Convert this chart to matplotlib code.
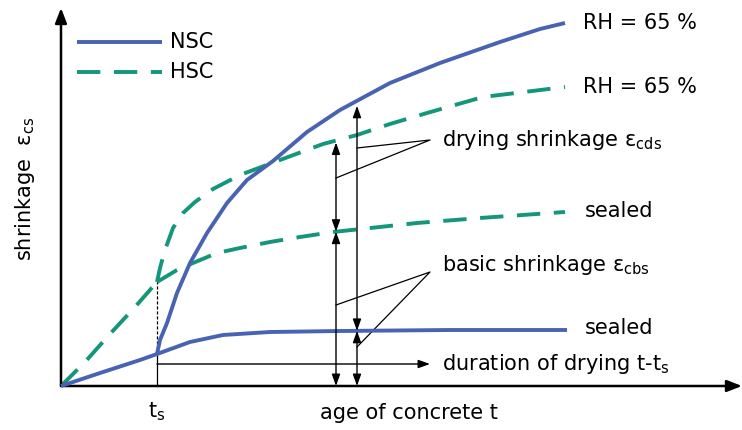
import numpy as np
import matplotlib
matplotlib.use("Agg")
from matplotlib import pyplot as plt

# curve points (x = age, y = shrinkage, arbitrary units)
t_s = 96

nsc_sealed_t = [0, 39, 79, 96, 129, 162, 209, 279, 389, 506]
nsc_sealed = [0, 13, 26, 32, 44, 51, 54, 55, 56, 56]

nsc_dry_t = [96, 99, 106, 116, 129, 146, 166, 186, 212, 246, 279, 329, 379, 439, 479, 504]
nsc_dry = [32, 46, 63, 93, 123, 153, 183, 206, 225, 254, 276, 303, 323, 344, 357, 363]

hsc_early_t = [0, 24, 49, 74, 96]
hsc_early = [0, 24, 52, 79, 104]

hsc_dry_t = [96, 99, 104, 112, 122, 134, 152, 179, 219, 262, 296, 329, 366, 422, 504]
hsc_dry = [104, 118, 136, 158, 173, 184, 197, 211, 226, 242, 251, 262, 273, 289, 299]

hsc_sealed_t = [96, 116, 132, 156, 179, 209, 239, 272, 356, 419, 504]
hsc_sealed = [104, 116, 123, 133, 138, 144, 149, 154, 163, 168, 174]

arrow_t_hsc = 275
arrow_t_nsc = 296

blue = '#4763B1'
green = '#13967A'
fs = 15

fig = plt.figure(figsize=(7.42, 4.30), dpi=100)
ax = fig.add_axes([0, 0, 1, 1])
ax.set_xlim(-61, 681)
ax.set_ylim(-44, 386)
ax.axis('off')

ap = dict(shrinkA=0, shrinkB=0, lw=1.0, color='black', mutation_scale=10)

# axes with arrows
ax.annotate('', xy=(0, 378), xytext=(0, 0),
            arrowprops=dict(arrowstyle='-|>,head_length=0.9,head_width=0.35', **dict(ap, lw=1.8)))
ax.annotate('', xy=(681, 0), xytext=(0, 0),
            arrowprops=dict(arrowstyle='-|>,head_length=0.9,head_width=0.35', **dict(ap, lw=1.8)))

# curves
ax.plot(nsc_sealed_t, nsc_sealed, color=blue, lw=2.8, solid_capstyle='butt',
        solid_joinstyle='round', zorder=3)
ax.plot(nsc_dry_t, nsc_dry, color=blue, lw=2.8, solid_capstyle='butt',
        solid_joinstyle='round', zorder=3)
ax.plot(hsc_early_t, hsc_early, color=green, lw=2.8, ls=(0, (6, 3.5)), zorder=2)
ax.plot(hsc_dry_t, hsc_dry, color=green, lw=2.8, ls=(0, (6, 3.5)), zorder=2)
ax.plot(hsc_sealed_t, hsc_sealed, color=green, lw=2.8, ls=(0, (6, 3.5)), zorder=2)

# t_s markers
ts_low = np.interp(t_s, nsc_sealed_t, nsc_sealed)
ax.plot([t_s, t_s], [0, ts_low], color='black', lw=0.9)
ax.plot([t_s, t_s], [ts_low, hsc_early[-1]], color='black', lw=0.9, ls=(0, (2.5, 1.5)))

# duration of drying
ax.annotate('', xy=(369, 22), xytext=(t_s, 22),
            arrowprops=dict(arrowstyle='-|>,head_length=0.7,head_width=0.25', **ap))

# shrinkage component arrows
dbl = '<|-|>,head_length=0.7,head_width=0.25'
h_sealed = np.interp(arrow_t_hsc, hsc_sealed_t, hsc_sealed)
h_dry = np.interp(arrow_t_hsc, hsc_dry_t, hsc_dry) - 2
n_sealed = np.interp(arrow_t_nsc, nsc_sealed_t, nsc_sealed)
n_dry = np.interp(arrow_t_nsc, nsc_dry_t, nsc_dry) - 5
for x, lo, hi in [(arrow_t_hsc, h_sealed, h_dry), (arrow_t_nsc, n_sealed, n_dry)]:
    ax.annotate('', xy=(x, 0), xytext=(x, lo), arrowprops=dict(arrowstyle=dbl, **ap))
    ax.annotate('', xy=(x, lo), xytext=(x, hi), arrowprops=dict(arrowstyle=dbl, **ap))

# leader lines
ax.plot([arrow_t_nsc, 369, arrow_t_hsc], [238, 246, 208], color='black', lw=0.9)
ax.plot([arrow_t_hsc, 369, arrow_t_nsc], [81, 114, 39], color='black', lw=0.9)

# labels
ax.text(522, 363, 'RH = 65 %', fontsize=fs, va='center')
ax.text(522, 299, 'RH = 65 %', fontsize=fs, va='center')
ax.text(524, 175, 'sealed', fontsize=fs, va='center')
ax.text(524, 58, 'sealed', fontsize=fs, va='center')
ax.text(381, 246, r'drying shrinkage ε$_{\mathrm{cds}}$', fontsize=fs, va='center')
ax.text(381, 121, r'basic shrinkage ε$_{\mathrm{cbs}}$', fontsize=fs, va='center')
ax.text(381, 22, r'duration of drying t-t$_{\mathrm{s}}$', fontsize=fs, va='center')
ax.text(t_s, -26, r't$_{\mathrm{s}}$', fontsize=fs, ha='center', va='center')
ax.text(348, -27, 'age of concrete t', fontsize=fs, ha='center', va='center')
ax.text(-36, 197, r'shrinkage  ε$_{\mathrm{cs}}$', fontsize=fs, ha='center', va='center',
        rotation=90)

# legend
ax.plot([16, 101], [344, 344], color=blue, lw=2.8, solid_capstyle='butt')
ax.plot([16, 101], [314, 314], color=green, lw=2.8, ls=(0, (6, 3.5)))
ax.text(109, 344, 'NSC', fontsize=fs, va='center')
ax.text(109, 314, 'HSC', fontsize=fs, va='center')

fig.savefig('out.png', dpi=100)
